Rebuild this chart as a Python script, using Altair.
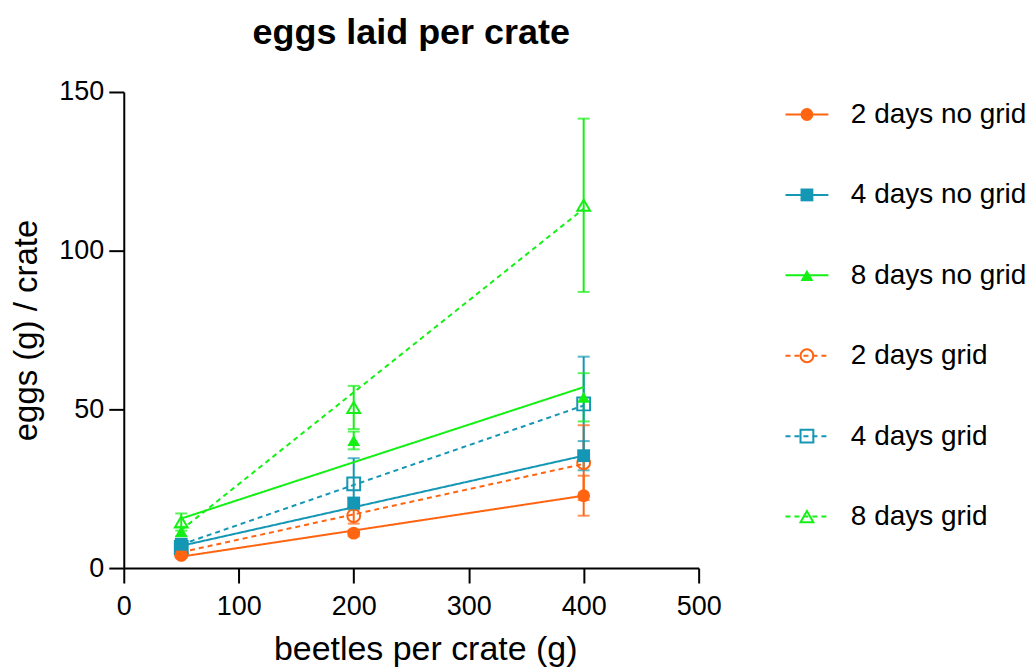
import altair as alt
import pandas as pd

# ---------------- data ----------------
series = ["2 days no grid", "4 days no grid", "8 days no grid",
          "2 days grid", "4 days grid", "8 days grid"]
grid_type = ["no grid", "no grid", "no grid", "grid", "grid", "grid"]
colors = ["#FF6411", "#1497B4", "#14F014", "#FF6411", "#1497B4", "#14F014"]
shapes = ["circle", "square", "triangle-up", "circle", "square", "triangle-up"]

beetles = [50, 200, 400]
mean_2_nogrid = [4.0, 11.0, 22.8]
mean_4_nogrid = [7.5, 20.5, 35.4]
mean_8_nogrid = [11.5, 40.2, 53.8]
mean_2_grid = [4.5, 16.5, 33.2]
mean_4_grid = [6.5, 26.5, 51.7]
mean_8_grid = [14.5, 50.6, 114.3]

err_2_nogrid = [0.8, 1.0, 6.3]
err_4_nogrid = [1.2, 1.2, 4.6]
err_8_nogrid = [1.5, 2.8, 7.6]
err_2_grid = [1.0, 2.5, 11.8]
err_4_grid = [1.5, 8.1, 14.9]
err_8_grid = [2.7, 6.8, 27.3]

fit_x = [50, 400]
fit_2_nogrid = [3.6, 22.8]
fit_4_nogrid = [7.0, 35.4]
fit_8_nogrid = [15.6, 57.0]
fit_2_grid = [5.0, 32.8]
fit_4_grid = [7.4, 51.2]
fit_8_grid = [12.0, 113.2]

means = [mean_2_nogrid, mean_4_nogrid, mean_8_nogrid, mean_2_grid, mean_4_grid, mean_8_grid]
errs = [err_2_nogrid, err_4_nogrid, err_8_nogrid, err_2_grid, err_4_grid, err_8_grid]
fits = [fit_2_nogrid, fit_4_nogrid, fit_8_nogrid, fit_2_grid, fit_4_grid, fit_8_grid]

pts_rows, fit_rows = [], []
for s, g, m, e, f in zip(series, grid_type, means, errs, fits):
    for xv, mv, ev in zip(beetles, m, e):
        pts_rows.append({"series": s, "grid": g, "beetles": xv, "eggs": mv,
                         "lo": mv - ev, "hi": mv + ev})
    for xv, fv in zip(fit_x, f):
        fit_rows.append({"series": s, "grid": g, "beetles": xv, "eggs": fv})
pts = pd.DataFrame(pts_rows)
fit = pd.DataFrame(fit_rows)

FONT = "Liberation Sans"
MSIZE = 165

color = alt.Color("series:N", scale=alt.Scale(domain=series, range=colors), legend=None)
shape = alt.Shape("series:N", scale=alt.Scale(domain=series, range=shapes), legend=None)
dash = alt.StrokeDash("grid:N", scale=alt.Scale(domain=["no grid", "grid"], range=[[1, 0], [5, 4]]),
                      legend=None)

x_axis = alt.Axis(values=[0, 100, 200, 300, 400, 500], title="beetles per crate (g)",
                  tickSize=15, labelPadding=11, titlePadding=13, titleFontSize=34,
                  labelFontSize=27, labelFlush=False, titleX=302)
y_axis = alt.Axis(values=[0, 50, 100, 150], title="eggs (g) / crate",
                  tickSize=15, labelPadding=5, titlePadding=15, titleFontSize=33,
                  labelFontSize=27)
x_scale = alt.Scale(domain=[0, 500], nice=False)
y_scale = alt.Scale(domain=[0, 150], nice=False)

X = alt.X("beetles:Q", scale=x_scale, axis=x_axis)

rules = alt.Chart(pts).mark_rule(strokeWidth=2).encode(
    x=X, y=alt.Y("lo:Q", scale=y_scale, axis=y_axis), y2="hi:Q", color=color)
cap_hi = alt.Chart(pts).mark_tick(orient="horizontal", size=12, thickness=2).encode(
    x=X, y=alt.Y("hi:Q", scale=y_scale, axis=y_axis), color=color)
cap_lo = alt.Chart(pts).mark_tick(orient="horizontal", size=12, thickness=2).encode(
    x=X, y=alt.Y("lo:Q", scale=y_scale, axis=y_axis), color=color)
lines = alt.Chart(fit).mark_line(strokeWidth=2).encode(
    x=X, y=alt.Y("eggs:Q", scale=y_scale, axis=y_axis), color=color, strokeDash=dash,
    detail="series:N")
open_pts = alt.Chart(pts).transform_filter(alt.datum.grid == "grid").mark_point(
    filled=False, size=MSIZE, strokeWidth=2, opacity=1).encode(
    x=X, y=alt.Y("eggs:Q", scale=y_scale, axis=y_axis), color=color, shape=shape)
filled_pts = alt.Chart(pts).transform_filter(alt.datum.grid == "no grid").mark_point(
    filled=True, size=MSIZE, opacity=1).encode(
    x=X, y=alt.Y("eggs:Q", scale=y_scale, axis=y_axis), color=color, shape=shape)

main = alt.layer(rules, cap_hi, cap_lo, lines, open_pts, filled_pts).properties(
    width=576, height=477,
    title=alt.TitleParams("eggs laid per crate", fontSize=36, fontWeight="bold", font=FONT,
                          anchor="middle", frame="group", offset=26, color="black"))

# ---------------- legend panel ----------------
leg_line = pd.DataFrame([{"series": s, "grid": g, "lx": v}
                         for s, g in zip(series, grid_type) for v in (0, 1)])
leg_pt = pd.DataFrame([{"series": s, "grid": g, "lx": 0.5} for s, g in zip(series, grid_type)])

ly = alt.Y("series:N", scale=alt.Scale(domain=series, type="point", padding=0.28),
           axis=alt.Axis(orient="right", title=None, ticks=False, domain=False,
                         labelFontSize=28, labelPadding=22, labelLimit=0))
lx = alt.X("lx:Q", scale=alt.Scale(domain=[0, 1], nice=False), axis=None)

leg = alt.layer(
    alt.Chart(leg_line).mark_line(strokeWidth=2).encode(
        x=lx, y=ly, color=color, strokeDash=dash, detail="series:N"),
    alt.Chart(leg_pt).transform_filter(alt.datum.grid == "grid").mark_point(
        filled=False, size=MSIZE, strokeWidth=2, opacity=1).encode(
        x=lx, y=ly, color=color, shape=shape),
    alt.Chart(leg_pt).transform_filter(alt.datum.grid == "no grid").mark_point(
        filled=True, size=MSIZE, opacity=1).encode(
        x=lx, y=ly, color=color, shape=shape),
).properties(width=43, height=448)

chart = alt.hconcat(main, leg, spacing=87, bounds="flush").properties(
    padding={"left": 2, "top": 6.5, "right": 0, "bottom": 0}
).configure_view(stroke=None).configure_axis(
    grid=False, domainColor="black", tickColor="black", domainWidth=2, tickWidth=2,
    labelColor="black", titleColor="black", labelFont=FONT, titleFont=FONT,
    titleFontWeight="normal"
)

chart.save("out.html", embed_options={"renderer": "svg", "actions": False})
